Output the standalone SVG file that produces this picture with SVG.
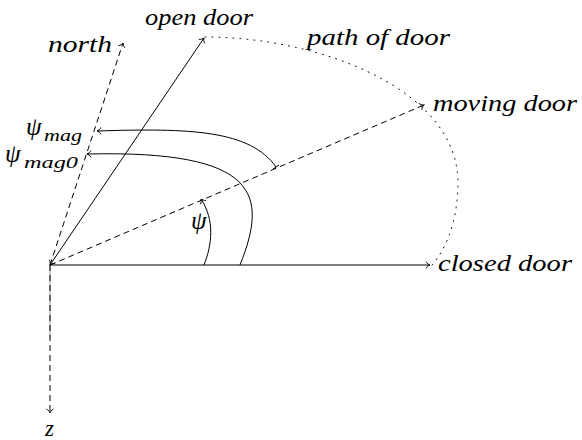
<svg xmlns="http://www.w3.org/2000/svg" width="582" height="440" viewBox="0 0 582 440">
<style>
.ln{fill:none;stroke:#000;stroke-width:1}
.dash{stroke-dasharray:6 4}
.dot{stroke-dasharray:1 6;stroke-linecap:round}
text{font-family:'Liberation Serif','DejaVu Serif',serif;font-style:italic;font-size:23px;fill:#000}
.s{font-size:16px}
.g{font-size:25px}
</style>
<defs>
<marker id="ar" markerUnits="userSpaceOnUse" viewBox="-6 -5 8 10" markerWidth="8" markerHeight="10" refX="0" refY="0" orient="auto-start-reverse" overflow="visible">
<path d="M-4,-3.5 C-3,-1.5 -1.2,-0.4 0,0 C-1.2,0.4 -3,1.5 -4,3.5" fill="none" stroke="#000" stroke-width="0.9"/>
</marker>
</defs>
<g id="connectors">
<line x1="50" y1="265" x2="50" y2="338" stroke="#999" stroke-width="1"/>
<path id="z-axis" class="ln dash" d="M50,265 L50,413" marker-end="url(#ar)"/>
<path id="closed-line" class="ln" d="M50,265 L430,265" marker-end="url(#ar)"/>
<path id="open-line" class="ln" d="M50,265 L204,38" marker-start="url(#ar)" marker-end="url(#ar)"/>
<path id="moving-line" class="ln dash" d="M50,265 L424,105" marker-end="url(#ar)"/>
<path id="north-line" class="ln dash" d="M50,265 L123,43" marker-end="url(#ar)"/>
<path id="door-path" class="ln dot" d="M205,37 C320,37 460,90 458,185 C457,225 445,250 432,265"/>
<path id="psi-arc" class="ln" d="M204,265 C212,245 215,220 201,199" marker-end="url(#ar)"/>
<path id="psimag0-arc" class="ln" d="M240,265 C268,195 260,150 87,154" marker-end="url(#ar)"/>
<path id="psimag-arc" class="ln" d="M276,167 C250,130 190,128 97,131" marker-end="url(#ar)"/>
<line x1="273" y1="169" x2="279" y2="165" stroke="#000" stroke-width="1"/>
</g>
<g id="open-door"><text x="145" y="25" textLength="108" lengthAdjust="spacingAndGlyphs">open door</text></g>
<g id="north"><text x="48" y="52" textLength="64" lengthAdjust="spacingAndGlyphs">north</text></g>
<g id="path-of-door"><text x="307" y="45" textLength="143" lengthAdjust="spacingAndGlyphs">path of door</text></g>
<g id="moving-door"><text x="433" y="111" textLength="144" lengthAdjust="spacingAndGlyphs">moving door</text></g>
<g id="closed-door"><text x="438" y="271" textLength="134" lengthAdjust="spacingAndGlyphs">closed door</text></g>
<g id="z"><text x="45" y="436">z</text></g>
<g id="psi"><text class="g" x="191" y="229">ψ</text></g>
<g id="psi-mag"><text class="g" x="26" y="135">ψ<tspan class="s" x="44" y="141" textLength="38" lengthAdjust="spacingAndGlyphs">mag</tspan></text></g>
<g id="psi-mag0"><text class="g" x="5" y="162">ψ<tspan class="s" x="24" y="168" textLength="54" lengthAdjust="spacingAndGlyphs">mag0</tspan></text></g>
</svg>
